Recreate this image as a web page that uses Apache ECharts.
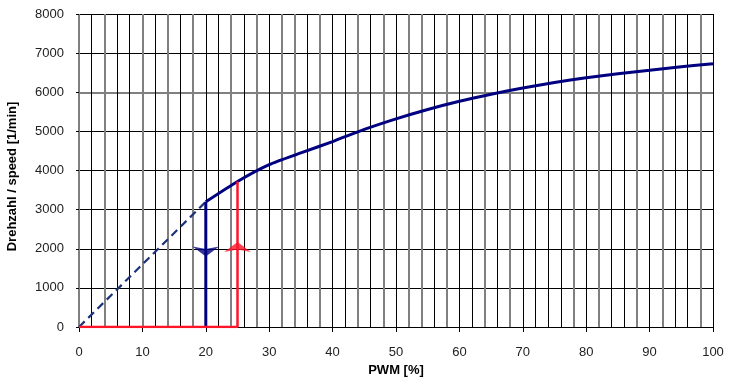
<!DOCTYPE html>
<html>
<head>
<meta charset="utf-8">
<script src="https://cdn.jsdelivr.net/npm/echarts@6/dist/echarts.min.js"></script>
<style>html,body{margin:0;padding:0;background:#fff}#c{width:735px;height:384px}</style>
</head>
<body>
<div id="c"></div>
<script>
// Data
var pwm = [20, 25, 30, 35, 40, 45, 50, 55, 60, 65, 70, 75, 80, 85, 90, 95, 100];
var speed = [3200, 3720, 4150, 4450, 4740, 5050, 5320, 5560, 5770, 5950, 6110, 6250, 6370, 6470, 6560, 6650, 6730];
var dashedPwm = [0, 20];
var dashedSpeed = [0, 3200];
var bluePwm = [20, 20];
var blueSpeed = [3200, 0];
var redPwm = [0, 25, 25];
var redSpeed = [0, 0, 3720];
var blueArrow = [20, 1800];
var redArrow = [25, 2170];
var xTicks = [0, 10, 20, 30, 40, 50, 60, 70, 80, 90, 100];
var yTicks = [0, 1000, 2000, 3000, 4000, 5000, 6000, 7000, 8000];
// grid line shading pattern (g = grey, b = black) for x = 0,2,...,100
var xPattern = 'gbgbbgbgbgbbgbgbggbgbbgbgbggbgbbgbgbbbbgbgbbgbgbbgb'.split('');
var yPattern = 'bbbbbbgbb'.split('');

function pts(xs, ys) { return xs.map(function (x, i) { return [x, ys[i]]; }); }

var GREY = '#808080', BLACK = '#000', NONE = 'rgba(0,0,0,0)';
var font = 'Liberation Sans, Arial, sans-serif';

var chart = echarts.init(document.getElementById('c'), null, { renderer: 'canvas' });

function gridAxisX(colorFn, width) {
  return {
    type: 'value', min: 0, max: 100, interval: 2, gridIndex: 0, position: 'bottom',
    axisLine: { show: false }, axisTick: { show: false }, axisLabel: { show: false },
    splitLine: { show: true, lineStyle: { color: xPattern.map(colorFn), width: width } }
  };
}
function gridAxisY(colorFn, width) {
  return {
    type: 'value', min: 0, max: 8000, interval: 1000, gridIndex: 0, position: 'left',
    axisLine: { show: false }, axisTick: { show: false }, axisLabel: { show: false },
    splitLine: { show: true, lineStyle: { color: yPattern.map(colorFn), width: width } }
  };
}

chart.setOption({
  animation: false,
  backgroundColor: '#fff',
  grid: { left: 79, right: 22, top: 14, bottom: 57, containLabel: false, outerBoundsMode: 'none' },
  xAxis: [
    {
      type: 'value', min: xTicks[0], max: xTicks[xTicks.length - 1], interval: 10,
      axisLine: { show: true, onZero: false, lineStyle: { color: '#000', width: 1 } },
      axisTick: { show: true, length: 5, lineStyle: { color: '#000' } },
      axisLabel: { margin: 19, color: '#222', fontSize: 13, fontFamily: font,
        formatter: function (v) { return String(v); } },
      splitLine: { show: false },
      name: 'PWM [%]', nameLocation: 'middle', nameGap: 37,
      nameTextStyle: { fontWeight: 'bold', fontSize: 13, color: '#000', fontFamily: font }
    },
    gridAxisX(function (c) { return c === 'g' ? GREY : NONE; }, 2),
    gridAxisX(function (c) { return c === 'b' ? BLACK : NONE; }, 1)
  ],
  yAxis: [
    {
      type: 'value', min: yTicks[0], max: yTicks[yTicks.length - 1], interval: 1000,
      axisLine: { show: false },
      axisTick: { show: true, length: 3, lineStyle: { color: '#000' } },
      axisLabel: { margin: 15, color: '#222', fontSize: 13, fontFamily: font,
        formatter: function (v) { return String(v); } },
      splitLine: { show: false },
      name: 'Drehzahl / speed [1/min]', nameLocation: 'middle', nameGap: 60,
      nameTextStyle: { fontWeight: 'bold', fontSize: 13, color: '#000', fontFamily: font,
        padding: [0, 12, 0, 0] }
    },
    gridAxisY(function (c) { return c === 'g' ? GREY : NONE; }, 2),
    gridAxisY(function (c) { return c === 'b' ? BLACK : NONE; }, 1)
  ],
  series: [
    {
      type: 'line', data: pts(dashedPwm, dashedSpeed), symbol: 'none', z: 3,
      lineStyle: { color: '#1c3278', width: 2.2, type: [8, 5] }
    },
    {
      type: 'line', data: pts(pwm, speed), symbol: 'none', smooth: 0.2, z: 4,
      lineStyle: { color: '#000080', width: 3 }
    },
    {
      type: 'line', data: pts(bluePwm, blueSpeed), symbol: 'none', z: 4,
      lineStyle: { color: '#000080', width: 3 }
    },
    {
      type: 'line', data: pts(redPwm, redSpeed), symbol: 'none', z: 5,
      lineStyle: { color: '#ff1428', width: 2.5 }
    },
    {
      type: 'scatter', data: [blueArrow], symbol: 'arrow', symbolSize: [20, 10], symbolRotate: 180, z: 6,
      itemStyle: { color: '#000080' }
    },
    {
      type: 'scatter', data: [redArrow], symbol: 'arrow', symbolSize: [20, 10], z: 6,
      itemStyle: { color: '#ff1428' }
    }
  ]
});
</script>
</body>
</html>
